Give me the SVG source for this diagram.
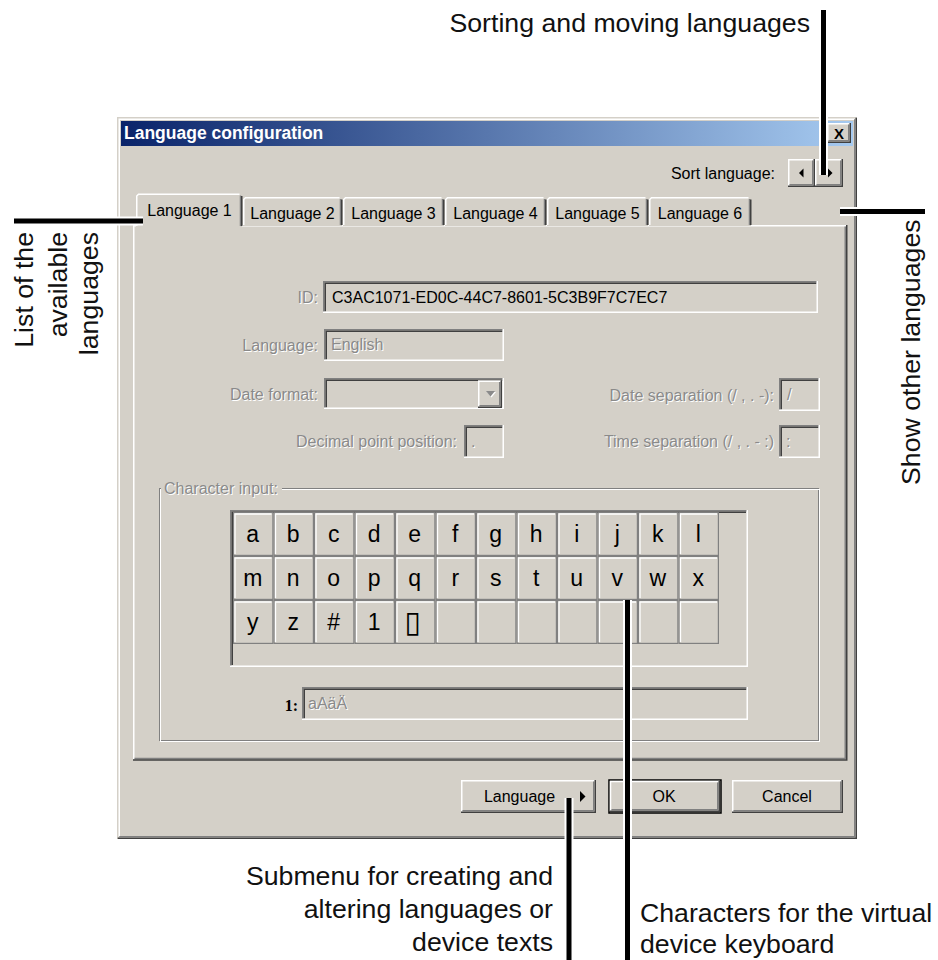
<svg xmlns="http://www.w3.org/2000/svg" width="938" height="960" viewBox="0 0 938 960">
  <defs>
    <style>
      .ui{font-family:"Liberation Sans",Arial,sans-serif;font-size:16px;fill:#000}
      .lbl{font-family:"Liberation Sans",Arial,sans-serif;font-size:16px}
      .note{font-family:"Liberation Sans",Arial,Helvetica,sans-serif;font-size:26.7px;fill:#111}
      .key{font-family:"Liberation Sans","DejaVu Sans",Arial,sans-serif;font-size:23px;fill:#000;text-anchor:middle}
      .face{fill:#d4d0c8}
      .hl{fill:none;stroke:#fff;stroke-width:1.5}
      .lt{fill:none;stroke:#d4d0c8;stroke-width:1.5}
      .sh{fill:none;stroke:#808080;stroke-width:1.5}
      .dk{fill:none;stroke:#404040;stroke-width:1.5}
      .halo{fill:none;stroke:#fff;stroke-width:9}
      .wire{fill:none;stroke:#000;stroke-width:5}
    </style>
    <linearGradient id="titleGrad" x1="0" y1="0" x2="1" y2="0">
      <stop offset="0" stop-color="#0a246a"/>
      <stop offset="1" stop-color="#a6caf0"/>
    </linearGradient>
    <!-- one key of the on-screen keyboard -->
    <g id="keycap">
      <rect x="0.6" y="0.6" width="39.3" height="42.8" fill="#d4d0c8" stroke="#808080" stroke-width="1.2"/>
      <path d="M2,42 V2 H38.5" fill="none" stroke="#fff" stroke-width="1.3"/>
    </g>
    <!-- greyed-out (disabled) captions, drawn twice: white emboss + grey -->
    <g id="disabledText" class="lbl">
      <text x="318" y="303" text-anchor="end">ID:</text>
      <text x="318" y="351" text-anchor="end">Language:</text>
      <text x="331" y="350">English</text>
      <text x="318" y="400" text-anchor="end">Date format:</text>
      <text x="774" y="401" text-anchor="end">Date separation (/ , . -):</text>
      <text x="457" y="447" text-anchor="end">Decimal point position:</text>
      <text x="774" y="447" text-anchor="end">Time separation (/ , . - :)</text>
      <text x="787" y="400">/</text>
      <text x="471" y="447">.</text>
      <text x="786" y="447">:</text>
      <text x="164" y="494">Character input:</text>
      <text x="308" y="709">aAäÄ</text>
      <polygon points="486,391 495,391 490.5,396.5"/>
    </g>
  </defs>

  <rect width="938" height="960" fill="#fff"/>

  <!-- dialog frame -->
  <g id="window">
    <rect x="117" y="117" width="740" height="722" class="face"/>
    <path class="lt" d="M117.75,838.25 V117.75 H856.25"/>
    <path class="hl" d="M119.25,836.75 V119.25 H854.75"/>
    <path class="dk" d="M856.25,117.75 V838.25 H117.75"/>
    <path class="sh" d="M854.75,119.25 V836.75 H119.25"/>
  </g>

  <g id="titlebar">
    <rect x="121" y="121" width="732" height="25" fill="url(#titleGrad)"/>
    <text x="124" y="139" font-family="'Liberation Sans',Arial,sans-serif" font-size="17.5" font-weight="bold" fill="#fff">Language configuration</text>
    <g id="close-button">
      <rect x="827" y="123" width="24" height="20" class="face"/>
      <path class="hl" d="M827.75,142 V123.75 H850"/>
      <path class="dk" d="M850.25,123 V142.25 H827"/>
      <path class="sh" d="M848.75,124.5 V140.75 H828.5"/>
      <text x="839" y="139" font-family="'Liberation Sans',Arial,sans-serif" font-size="15" font-weight="bold" text-anchor="middle">X</text>
    </g>
  </g>

  <g id="sort-control">
    <text class="ui" x="775" y="179" text-anchor="end">Sort language:</text>
    <rect x="788" y="159" width="27" height="28" class="face"/>
    <path class="hl" d="M788.75,186 V159.75 H814"/>
    <path class="dk" d="M814.25,159 V186.25 H788"/>
    <path class="sh" d="M812.75,160.5 V184.75 H789.5"/>
    <polygon points="799,173 803.5,168.5 803.5,177.5"/>
    <rect x="815" y="159" width="28" height="28" class="face"/>
    <path class="hl" d="M815.75,186 V159.75 H842"/>
    <path class="dk" d="M842.25,159 V186.25 H815"/>
    <path class="sh" d="M840.75,160.5 V184.75 H816.5"/>
    <polygon points="828,168.5 832.5,173 828,177.5"/>
  </g>

  <!-- tab page -->
  <g id="tab-panel">
    <rect x="133" y="225" width="714" height="535" class="face"/>
    <path class="hl" d="M133.75,759 V225.75 H846"/>
    <path class="sh" d="M845.25,226.5 V758.5 H134.5"/>
    <path class="dk" d="M846.75,225 V760 H133"/>
  </g>

  <g id="tabs">
    <g id="tab-2">
      <path class="face" d="M243,226 V199.5 L245,197.5 H340 L342,199.5 V226 Z"/>
      <path class="hl" d="M243.75,225 V199.5 L245.5,197.75 H339.5"/>
      <path class="sh" d="M340.5,199 V225"/>
      <path class="dk" d="M341.75,199.5 V225"/>
      <text class="ui" x="292.5" y="219" text-anchor="middle">Language 2</text>
    </g>
    <g id="tab-3">
      <path class="face" d="M343,226 V199.5 L345,197.5 H442 L444,199.5 V226 Z"/>
      <path class="hl" d="M343.75,225 V199.5 L345.5,197.75 H441.5"/>
      <path class="sh" d="M442.5,199 V225"/>
      <path class="dk" d="M443.75,199.5 V225"/>
      <text class="ui" x="393.5" y="219" text-anchor="middle">Language 3</text>
    </g>
    <g id="tab-4">
      <path class="face" d="M445,226 V199.5 L447,197.5 H544 L546,199.5 V226 Z"/>
      <path class="hl" d="M445.75,225 V199.5 L447.5,197.75 H543.5"/>
      <path class="sh" d="M544.5,199 V225"/>
      <path class="dk" d="M545.75,199.5 V225"/>
      <text class="ui" x="495.5" y="219" text-anchor="middle">Language 4</text>
    </g>
    <g id="tab-5">
      <path class="face" d="M547,226 V199.5 L549,197.5 H646 L648,199.5 V226 Z"/>
      <path class="hl" d="M547.75,225 V199.5 L549.5,197.75 H645.5"/>
      <path class="sh" d="M646.5,199 V225"/>
      <path class="dk" d="M647.75,199.5 V225"/>
      <text class="ui" x="597.5" y="219" text-anchor="middle">Language 5</text>
    </g>
    <g id="tab-6">
      <path class="face" d="M649,226 V199.5 L651,197.5 H749 L751,199.5 V226 Z"/>
      <path class="hl" d="M649.75,225 V199.5 L651.5,197.75 H748.5"/>
      <path class="sh" d="M749.5,199 V225"/>
      <path class="dk" d="M750.75,199.5 V225"/>
      <text class="ui" x="700" y="219" text-anchor="middle">Language 6</text>
    </g>
    <g id="tab-1">
      <path class="face" d="M136,228 V196 L138,194 H240 L242,196 V228 Z"/>
      <path class="hl" d="M136.75,226 V196 L138.5,194.25 H239.5"/>
      <path class="sh" d="M240.5,195.5 V226"/>
      <path class="dk" d="M241.75,196 V226"/>
      <text class="ui" x="189.5" y="216" text-anchor="middle">Language 1</text>
    </g>
  </g>

  <g id="fields">
    <g id="id-field">
      <rect x="323" y="281" width="495" height="32" class="face"/>
      <path class="sh" d="M323.75,313 V281.75 H818"/>
      <path class="dk" d="M325.25,311.5 V283.25 H816.5"/>
      <path class="hl" d="M817.25,281 V312.25 H323"/>
      <text class="ui" x="332" y="303" font-size="16.3">C3AC1071-ED0C-44C7-8601-5C3B9F7C7EC7</text>
    </g>
    <g id="language-field">
      <rect x="324" y="329" width="180" height="32" class="face"/>
      <path class="sh" d="M324.75,361 V329.75 H504"/>
      <path class="dk" d="M326.25,359.5 V331.25 H502.5"/>
      <path class="hl" d="M503.25,329 V360.25 H324"/>
    </g>
    <g id="date-format-field">
      <rect x="324" y="378" width="180" height="31" class="face"/>
      <path class="sh" d="M324.75,409 V378.75 H504"/>
      <path class="dk" d="M326.25,407.5 V380.25 H502.5"/>
      <path class="hl" d="M503.25,378 V408.25 H324"/>
      <rect x="478" y="380.5" width="23.5" height="27" class="face"/>
      <path class="hl" d="M478.75,407 V381.25 H501"/>
      <path class="dk" d="M501.25,380.5 V407.25 H478"/>
      <path class="sh" d="M499.75,382 V405.75 H479.5"/>
    </g>
    <g id="date-separation-field">
      <rect x="779" y="378" width="41" height="33" class="face"/>
      <path class="sh" d="M779.75,411 V378.75 H820"/>
      <path class="dk" d="M781.25,409.5 V380.25 H818.5"/>
      <path class="hl" d="M819.25,378 V410.25 H779"/>
    </g>
    <g id="decimal-point-field">
      <rect x="464" y="425" width="40" height="33" class="face"/>
      <path class="sh" d="M464.75,458 V425.75 H504"/>
      <path class="dk" d="M466.25,456.5 V427.25 H502.5"/>
      <path class="hl" d="M503.25,425 V457.25 H464"/>
    </g>
    <g id="time-separation-field">
      <rect x="779" y="425" width="41" height="33" class="face"/>
      <path class="sh" d="M779.75,458 V425.75 H820"/>
      <path class="dk" d="M781.25,456.5 V427.25 H818.5"/>
      <path class="hl" d="M819.25,425 V457.25 H779"/>
    </g>
  </g>

  <g id="char-input">
    <rect x="159.5" y="488.5" width="659" height="252" fill="none" stroke="#808080" stroke-width="1"/>
    <rect x="160.5" y="489.5" width="659" height="252" fill="none" stroke="#fff" stroke-width="1"/>
    <rect x="161" y="484" width="121" height="9" class="face"/>
    <g id="chars-field">
      <rect x="302" y="687" width="446" height="33" class="face"/>
      <path class="sh" d="M302.75,720 V687.75 H748"/>
      <path class="dk" d="M304.25,718.5 V689.25 H746.5"/>
      <path class="hl" d="M747.25,687 V719.25 H302"/>
      <text x="298" y="711" text-anchor="end" font-family="'Liberation Serif','Times New Roman',serif" font-size="16" font-weight="bold">1:</text>
    </g>
  </g>

  <use href="#disabledText" x="1" y="1" fill="#fff"/>
  <use href="#disabledText" fill="#8a8a8a"/>

  <g id="keyboard">
    <rect x="230" y="510" width="518" height="157" class="face"/>
    <path class="sh" d="M230.75,666 V510.75 H747"/>
    <path class="dk" d="M232.25,665 V512.25 H746"/>
    <path class="hl" d="M747.25,510 V666.25 H230"/>
    <g id="keys">
      <use href="#keycap" x="233" y="512"/><use href="#keycap" x="273.5" y="512"/><use href="#keycap" x="314" y="512"/><use href="#keycap" x="354.5" y="512"/><use href="#keycap" x="395" y="512"/><use href="#keycap" x="435.5" y="512"/><use href="#keycap" x="476" y="512"/><use href="#keycap" x="516.5" y="512"/><use href="#keycap" x="557" y="512"/><use href="#keycap" x="597.5" y="512"/><use href="#keycap" x="638" y="512"/><use href="#keycap" x="678.5" y="512"/>
      <use href="#keycap" x="233" y="556"/><use href="#keycap" x="273.5" y="556"/><use href="#keycap" x="314" y="556"/><use href="#keycap" x="354.5" y="556"/><use href="#keycap" x="395" y="556"/><use href="#keycap" x="435.5" y="556"/><use href="#keycap" x="476" y="556"/><use href="#keycap" x="516.5" y="556"/><use href="#keycap" x="557" y="556"/><use href="#keycap" x="597.5" y="556"/><use href="#keycap" x="638" y="556"/><use href="#keycap" x="678.5" y="556"/>
      <use href="#keycap" x="233" y="600"/><use href="#keycap" x="273.5" y="600"/><use href="#keycap" x="314" y="600"/><use href="#keycap" x="354.5" y="600"/><use href="#keycap" x="395" y="600"/><use href="#keycap" x="435.5" y="600"/><use href="#keycap" x="476" y="600"/><use href="#keycap" x="516.5" y="600"/><use href="#keycap" x="557" y="600"/><use href="#keycap" x="597.5" y="600"/><use href="#keycap" x="638" y="600"/><use href="#keycap" x="678.5" y="600"/>
    </g>
    <g id="key-labels" class="key">
      <text x="252.75" y="542">a</text><text x="293.25" y="542">b</text><text x="333.75" y="542">c</text><text x="374.25" y="542">d</text><text x="414.75" y="542">e</text><text x="455.25" y="542">f</text><text x="495.75" y="542">g</text><text x="536.25" y="542">h</text><text x="576.75" y="542">i</text><text x="617.25" y="542">j</text><text x="657.75" y="542">k</text><text x="698.25" y="542">l</text>
      <text x="252.75" y="586">m</text><text x="293.25" y="586">n</text><text x="333.75" y="586">o</text><text x="374.25" y="586">p</text><text x="414.75" y="586">q</text><text x="455.25" y="586">r</text><text x="495.75" y="586">s</text><text x="536.25" y="586">t</text><text x="576.75" y="586">u</text><text x="617.25" y="586">v</text><text x="657.75" y="586">w</text><text x="698.25" y="586">x</text>
      <text x="252.75" y="630">y</text><text x="293.25" y="630">z</text><text x="333.75" y="630">#</text><text x="374.25" y="630">1</text><text x="412.5" y="632" font-family="'DejaVu Sans',sans-serif" font-size="30">▯</text>
    </g>
  </g>

  <g id="buttons">
    <g id="language-button">
      <rect x="461" y="780" width="135" height="33" class="face"/>
      <path class="hl" d="M461.75,812 V780.75 H595"/>
      <path class="dk" d="M595.25,780 V812.25 H461"/>
      <path class="sh" d="M593.75,781.5 V810.75 H462.5"/>
      <text class="ui" x="519.5" y="802" text-anchor="middle">Language</text>
      <polygon points="580,791 585.5,796.5 580,802"/>
    </g>
    <g id="ok-button">
      <rect x="609" y="780" width="112" height="33" class="face" stroke="#000" stroke-width="1.5"/>
      <path class="hl" d="M610.5,811 V781.5 H719.5"/>
      <path class="dk" d="M719.25,781 V811.25 H610"/>
      <path class="sh" d="M717.75,782.5 V809.75 H611.5"/>
      <text class="ui" x="664" y="802" text-anchor="middle">OK</text>
    </g>
    <g id="cancel-button">
      <rect x="732" y="780" width="111" height="33" class="face"/>
      <path class="hl" d="M732.75,812 V780.75 H842"/>
      <path class="dk" d="M842.25,780 V812.25 H732"/>
      <path class="sh" d="M840.75,781.5 V810.75 H733.5"/>
      <text class="ui" x="787" y="802" text-anchor="middle">Cancel</text>
    </g>
  </g>

  <!-- callout lines: white halo under a black bar -->
  <g id="connectors">
    <path class="halo" d="M823.5,10 V175 M14,221 H143 M840,211.5 H925 M569,798 V960 M627.5,600 V960"/>
    <path class="wire" d="M823.5,10 V175"/>
    <path class="wire" d="M14,221 H143"/>
    <path class="wire" d="M840,211.5 H925"/>
    <path class="wire" d="M569,798 V960"/>
    <path class="wire" d="M627.5,600 V960"/>
  </g>

  <g id="label-sorting">
    <text class="note" x="810" y="32" text-anchor="end">Sorting and moving languages</text>
  </g>
  <g id="label-list">
    <text class="note" transform="translate(33,232) rotate(-90)" text-anchor="end">List of the</text>
    <text class="note" transform="translate(67,232) rotate(-90)" text-anchor="end">available</text>
    <text class="note" transform="translate(98,232) rotate(-90)" text-anchor="end">languages</text>
  </g>
  <g id="label-show">
    <text class="note" transform="translate(920,485) rotate(-90)">Show other languages</text>
  </g>
  <g id="label-submenu">
    <text class="note" x="553" y="885" text-anchor="end">Submenu for creating and</text>
    <text class="note" x="553" y="918" text-anchor="end">altering languages or</text>
    <text class="note" x="553" y="951" text-anchor="end">device texts</text>
  </g>
  <g id="label-characters">
    <text class="note" x="640" y="922">Characters for the virtual</text>
    <text class="note" x="640" y="953">device keyboard</text>
  </g>
</svg>
